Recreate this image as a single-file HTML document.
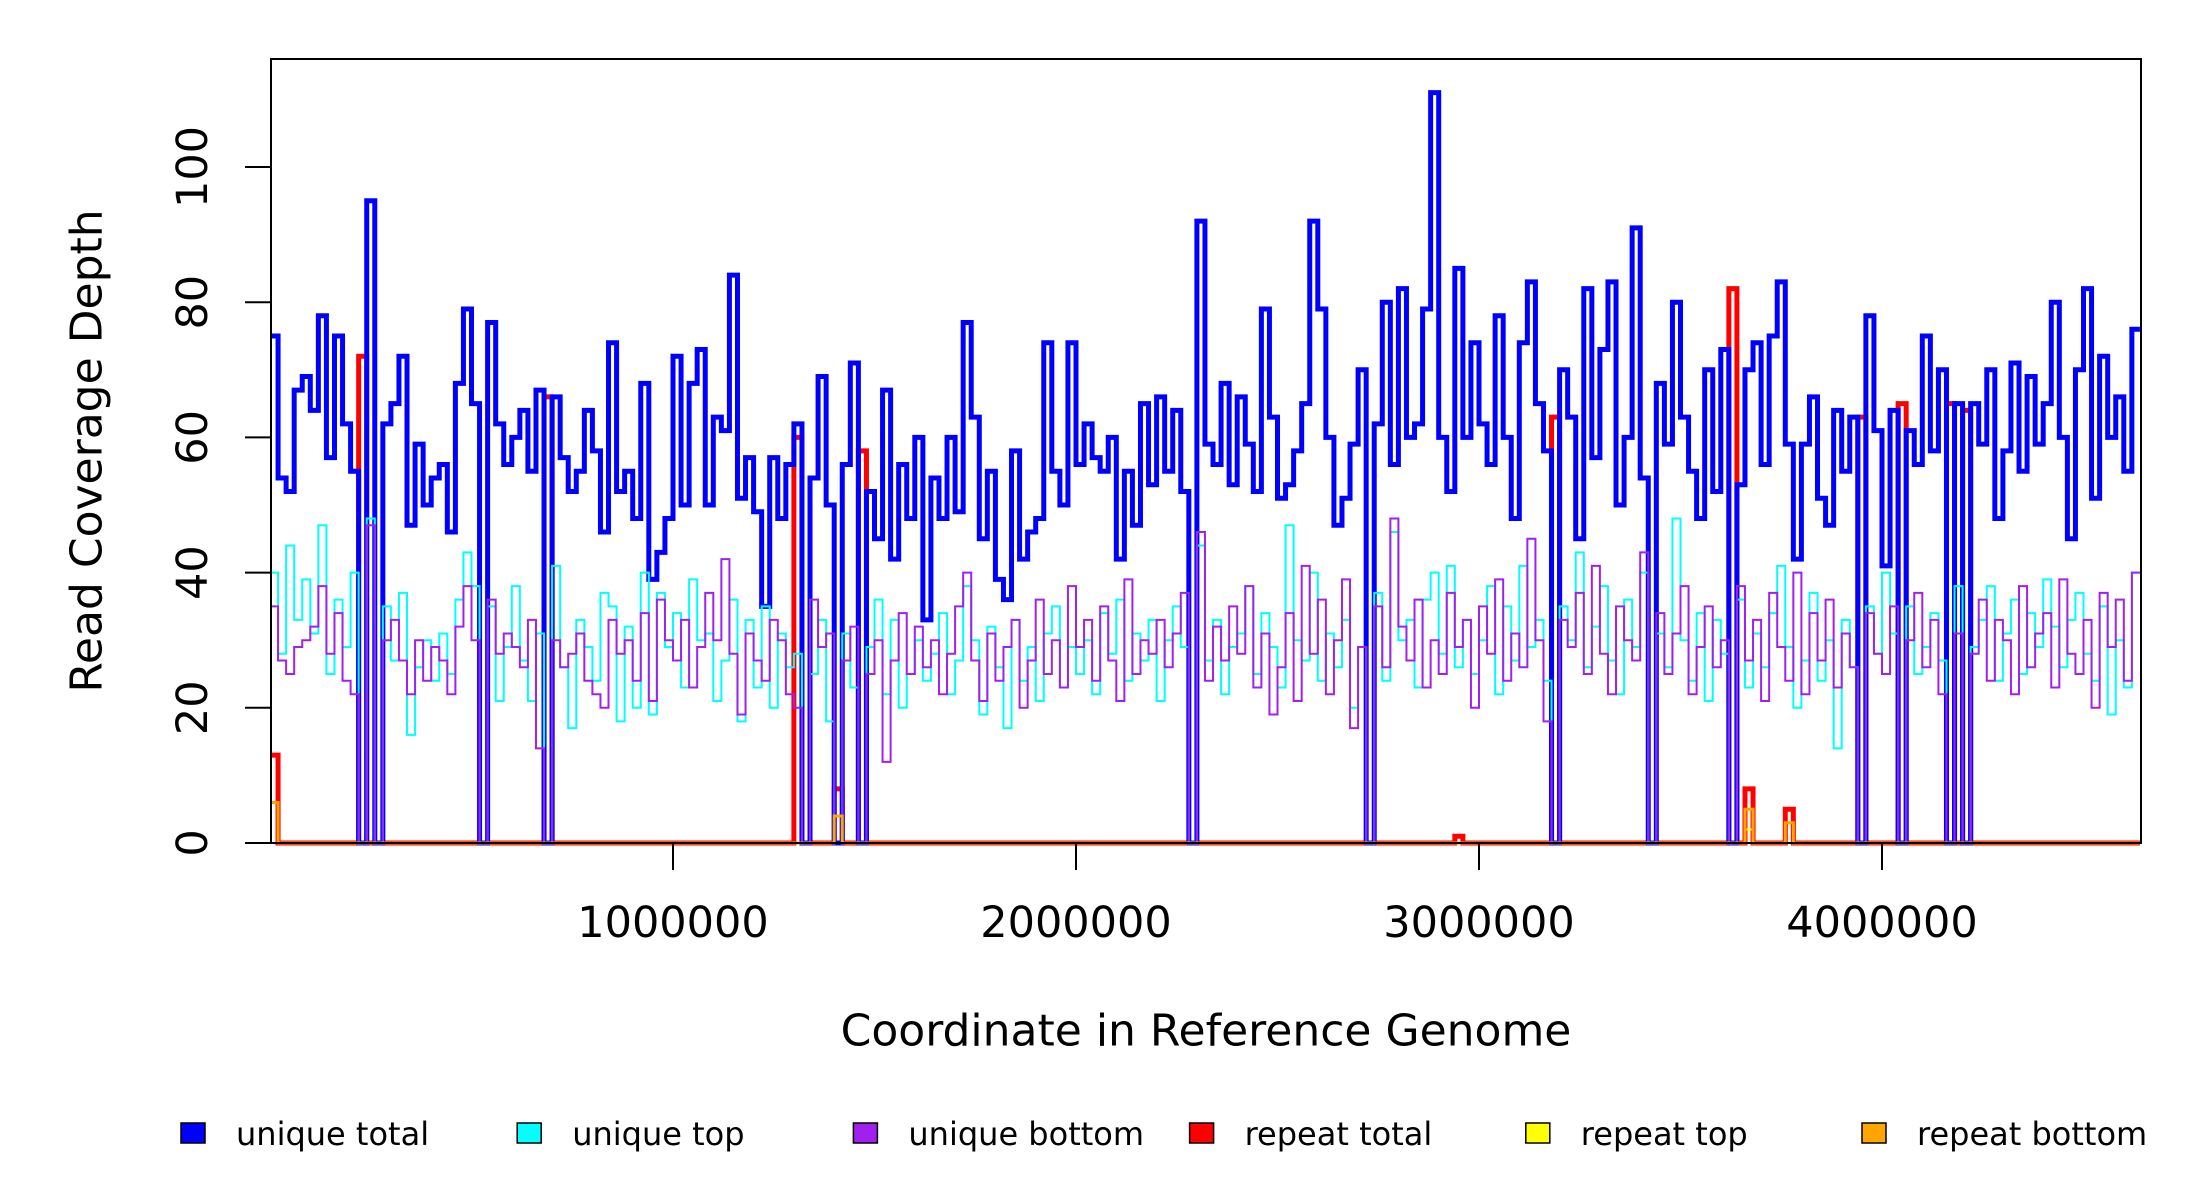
<!DOCTYPE html>
<html><head><meta charset="utf-8"><style>
html,body{margin:0;padding:0;background:#fff;}
svg{display:block;font-family:"DejaVu Sans","Liberation Sans",sans-serif;}
</style></head><body>
<svg id="chart" width="2200" height="1200" viewBox="0 0 2200 1200" xmlns="http://www.w3.org/2000/svg">
<rect x="0" y="0" width="2200" height="1200" fill="#fff"/>
<g id="series"></g>
<g id="axes"></g>
<text x="1206" y="1031" font-size="44" text-anchor="middle" dominant-baseline="central">Coordinate in Reference Genome</text>
<text transform="translate(87,451) rotate(-90)" font-size="44" text-anchor="middle" dominant-baseline="central">Read Coverage Depth</text>
<g id="legend"></g>
</svg>
<script>
const binSize = 20000;
const xTicks = [1000000, 2000000, 3000000, 4000000];
const xTickLabels = ["1000000", "2000000", "3000000", "4000000"];
const yTicks = [0, 20, 40, 60, 80, 100];
const yTickLabels = ["0", "20", "40", "60", "80", "100"];
const uniqueTotal = [
75,54,52,67,69,64,78,57,75,62, 55,0,95,0,62,65,72,47,59,50,
54,56,46,68,79,65,0,77,62,56, 60,64,55,67,0,66,57,52,55,64,
58,46,74,52,55,48,68,39,43,48, 72,50,68,73,50,63,61,84,51,57,
49,35,57,48,56,62,0,54,69,50, 0,56,71,0,52,45,67,42,56,48,
60,33,54,48,60,49,77,63,45,55, 39,36,58,42,46,48,74,55,50,74,
56,62,57,55,60,42,55,47,65,53, 66,55,64,52,0,92,59,56,68,53,
66,59,52,79,63,51,53,58,65,92, 79,60,47,51,59,70,0,62,80,56,
82,60,62,79,111,60,52,85,60,74, 62,56,78,60,48,74,83,65,58,0,
70,63,45,82,57,73,83,50,60,91, 54,0,68,59,80,63,55,48,70,52,
73,0,53,70,74,56,75,83,59,42, 59,66,51,47,64,55,63,0,78,61,
41,64,0,61,56,75,58,70,0,65, 0,65,59,70,48,58,71,55,69,59,
65,80,60,45,70,82,51,72,60,66, 55,76];
const uniqueTop = [
40,28,44,33,39,31,47,25,36,29, 40,0,48,0,35,27,37,16,26,30,
24,31,25,36,43,38,0,35,21,29, 38,27,21,31,0,41,26,17,33,29,
24,37,35,18,32,20,40,19,37,29, 34,23,39,30,31,21,27,36,18,33,
23,35,20,31,26,28,0,25,33,18, 0,31,23,0,29,36,22,33,20,25,
30,24,28,34,22,27,38,30,19,32, 26,17,33,24,29,21,31,35,23,29,
25,30,22,34,28,36,24,31,27,33, 21,30,35,29,0,44,27,33,22,29,
31,38,25,34,29,23,47,30,27,40, 24,31,26,33,20,29,0,37,24,46,
30,33,23,36,40,28,41,26,33,25, 30,38,22,35,27,41,29,33,24,0,
35,30,43,26,32,38,27,22,36,29, 40,0,31,26,48,30,24,34,21,33,
28,0,36,23,31,26,34,41,29,20, 27,37,24,30,14,33,26,0,35,28,
40,31,0,35,25,29,34,27,0,38, 0,29,33,38,24,31,36,25,34,29,
39,32,26,33,37,28,24,35,19,30, 23,40];
const uniqueBottom = [
35,27,25,29,30,32,38,28,34,24, 22,0,47,0,30,33,27,22,30,24,
29,27,22,32,38,30,0,36,28,31, 29,26,33,14,0,30,26,28,31,24,
22,20,33,28,30,24,34,21,36,30, 27,33,23,29,37,30,42,28,19,31,
27,24,33,30,22,20,0,36,29,31, 0,27,32,0,25,30,12,27,34,25,
32,26,30,22,28,35,40,27,21,31, 24,29,33,20,27,36,25,30,23,38,
29,33,24,35,27,21,39,25,30,28, 33,26,31,37,0,46,24,32,27,35,
28,38,23,31,19,26,34,21,41,28, 36,22,30,39,17,29,0,35,26,48,
32,27,36,23,30,25,37,29,33,20, 35,28,39,24,31,26,45,30,18,0,
33,29,37,25,41,28,22,35,30,27, 43,0,34,25,31,38,22,29,35,26,
30,0,38,27,33,21,37,29,24,40, 22,34,27,36,23,31,26,0,34,28,
25,35,0,30,37,26,33,22,0,31, 0,28,36,24,33,30,22,38,26,31,
34,23,39,28,25,33,20,37,29,36, 24,40];
const repeatTotalBins = [0, 11, 34, 65, 70, 73, 147, 159, 181, 183, 188, 197, 202, 208, 210];
const repeatTotalValues = [13, 72, 66, 60, 8, 58, 1, 63, 82, 8, 5, 63, 65, 65, 64];
const repeatTopBins = [183];
const repeatTopValues = [2];
const repeatBottomBins = [0, 70, 183, 188];
const repeatBottomValues = [6, 4, 5, 3];

const NS = "http://www.w3.org/2000/svg";
const X0 = 270, PXPERMB = 403, Y0 = 843, PXPERUNIT = 6.76;
const PL = 271, PR = 2141, PT = 59;
function xs(g){ return X0 + g / 1e6 * PXPERMB; }
function ys(v){ return Y0 - v * PXPERUNIT; }
function mk(tag, attrs, parent){
  const el = document.createElementNS(NS, tag);
  for (const k in attrs) el.setAttribute(k, attrs[k]);
  parent.appendChild(el);
  return el;
}
const nBins = uniqueTotal.length;
function sparse(bins, vals){
  const a = new Array(nBins).fill(0);
  bins.forEach((b, i) => { a[b] = vals[i]; });
  return a;
}
function stepPath(vals){
  let d = "M" + xs(0) + " " + ys(vals[0]);
  for (let i = 0; i < vals.length; i++){
    if (i > 0) d += " V" + ys(vals[i]);
    d += " H" + xs((i + 1) * binSize);
  }
  return d;
}
const series = document.getElementById("series");
const specs = [
  ["repeat-total-line", sparse(repeatTotalBins, repeatTotalValues), "#ff0000", 5],
  ["unique-total-line", uniqueTotal, "#0000ff", 5],
  ["unique-top-line", uniqueTop, "#00ffff", 2],
  ["unique-bottom-line", uniqueBottom, "#a020f0", 2],
  ["repeat-top-line", sparse(repeatTopBins, repeatTopValues), "#ffff00", 2],
  ["repeat-bottom-line", sparse(repeatBottomBins, repeatBottomValues), "#ffa500", 3]
];
specs.forEach(s => {
  const p = mk("path", {d: stepPath(s[1]), fill: "none", stroke: s[2], "stroke-width": s[3], "stroke-linejoin": "miter"}, series);
  
  
});

const axes = document.getElementById("axes");
const box = mk("rect", {x: PL, y: PT, width: PR - PL, height: Y0 - PT, fill: "none", stroke: "#000", "stroke-width": 2}, axes);


xTicks.forEach((t, i) => {
  const ln = mk("line", {x1: xs(t), x2: xs(t), y1: Y0, y2: 870, stroke: "#000", "stroke-width": 2}, axes);
  
  
  const tx = mk("text", {x: xs(t), y: 923, "font-size": 43, "text-anchor": "middle", "dominant-baseline": "central"}, axes);
  tx.textContent = xTickLabels[i];
  
  
});
const yl = mk("line", {x1: PL, x2: PL, y1: ys(0), y2: ys(100), stroke: "#000", "stroke-width": 2}, axes);


yTicks.forEach((t, i) => {
  const ln = mk("line", {x1: 245, x2: PL, y1: ys(t), y2: ys(t), stroke: "#000", "stroke-width": 2}, axes);
  
  
  const tx = mk("text", {transform: "translate(193," + ys(t) + ") rotate(-90)", "font-size": 43, "text-anchor": "middle", "dominant-baseline": "central"}, axes);
  tx.textContent = yTickLabels[i];
  
  
});

const legendNames = ["unique total", "unique top", "unique bottom", "repeat total", "repeat top", "repeat bottom"];
const legendColors = ["#0000ff", "#00ffff", "#a020f0", "#ff0000", "#ffff00", "#ffa500"];
const legend = document.getElementById("legend");
legendNames.forEach((n, i) => {
  const bx = 181 + i * 336.2;
  const r = mk("rect", {x: bx, y: 1123, width: 24, height: 20, fill: legendColors[i], stroke: "#000", "stroke-width": 1.5}, legend);
  
  
  const tx = mk("text", {x: bx + 55, y: 1134, "font-size": 32, "dominant-baseline": "central"}, legend);
  tx.textContent = n;
  
  
});
</script>
</body></html>
